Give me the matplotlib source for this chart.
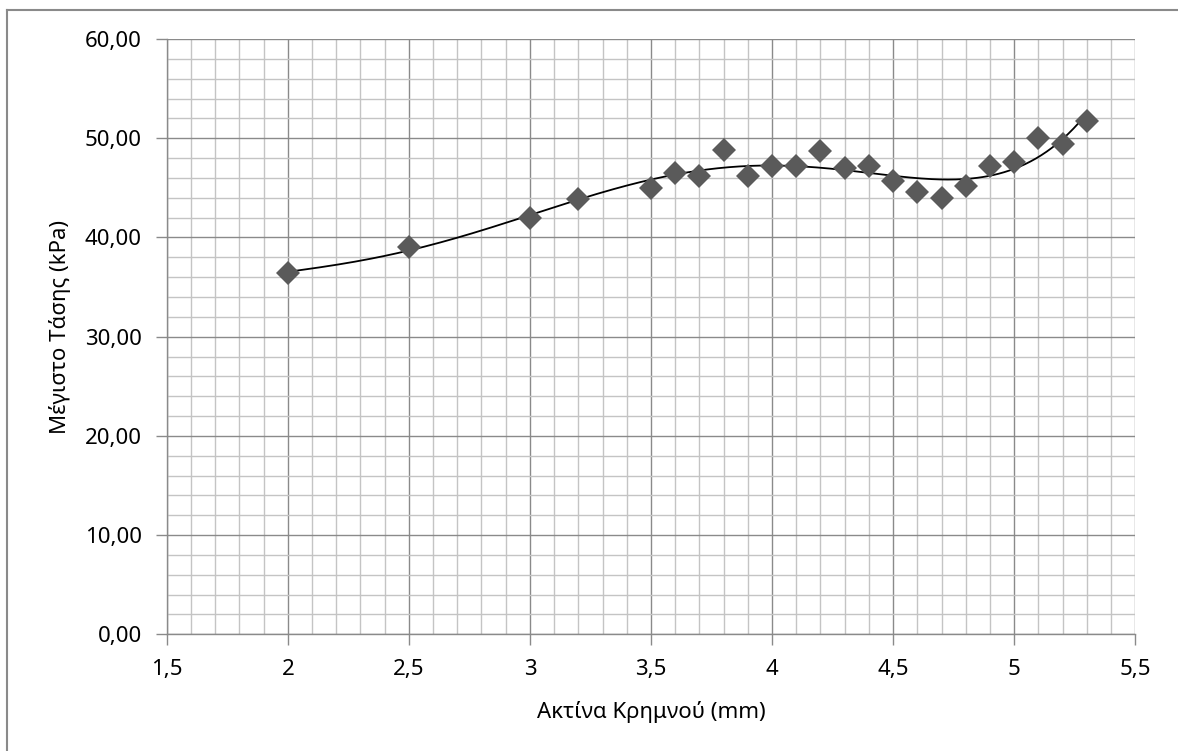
import matplotlib

matplotlib.use("Agg")
import matplotlib.pyplot as plt
import numpy as np
from matplotlib.ticker import FuncFormatter, MultipleLocator

plt.rcParams["font.family"] = ["Noto Sans", "DejaVu Sans"]

# data
radius = [2.0, 2.5, 3.0, 3.2, 3.5, 3.6, 3.7, 3.8, 3.9, 4.0, 4.1, 4.2,
          4.3, 4.4, 4.5, 4.6, 4.7, 4.8, 4.9, 5.0, 5.1, 5.2, 5.3]
stress = [36.45, 39.0, 42.0, 43.9, 45.0, 46.45, 46.2, 48.8, 46.2, 47.2, 47.2, 48.75,
          47.0, 47.2, 45.7, 44.6, 44.0, 45.2, 47.2, 47.6, 50.05, 49.45, 51.7]
trend_order = 5

x_label = "Ακτίνα Κρημνού (mm)"
y_label = "Μέγιστο Τάσης (kPa)"

fig = plt.figure(figsize=(11.78, 7.51), dpi=100)
ax = fig.add_axes([0.1415, 0.1554, 0.9637 - 0.1415, 0.948 - 0.1554])

ax.set_xlim(1.5, 5.5)
ax.set_ylim(0, 60)
ax.xaxis.set_major_locator(MultipleLocator(0.5))
ax.xaxis.set_minor_locator(MultipleLocator(0.1))
ax.yaxis.set_major_locator(MultipleLocator(10))
ax.yaxis.set_minor_locator(MultipleLocator(2))

ax.grid(which="minor", color="#c4c4c4", lw=1.0)
ax.grid(which="major", color="#8a8a8a", lw=1.0)
ax.set_axisbelow(True)

for s in ["top", "right"]:
    ax.spines[s].set_visible(False)
for s in ["left", "bottom"]:
    ax.spines[s].set_color("#8a8a8a")
    ax.spines[s].set_linewidth(1.0)

ax.tick_params(which="major", length=8, width=1.0, color="#8a8a8a",
               labelsize=16, pad=10)
ax.tick_params(which="minor", length=0)


def x_fmt(v, _):
    s = f"{v:g}"
    return s.replace(".", ",")


def y_fmt(v, _):
    return f"{v:.2f}".replace(".", ",")


ax.xaxis.set_major_formatter(FuncFormatter(x_fmt))
ax.yaxis.set_major_formatter(FuncFormatter(y_fmt))

# polynomial trendline (as in the spreadsheet chart)
coef = np.polyfit(radius, stress, trend_order)
xs = np.linspace(min(radius), max(radius), 300)
ax.plot(xs, np.polyval(coef, xs), color="black", lw=1.3, zorder=3)

ax.plot(radius, stress, linestyle="none", marker="D", markersize=12,
        color="#5a5a5a", markeredgewidth=0, zorder=4)

fig.text(651 / 1178, 1 - 712 / 751, x_label, ha="center", va="center",
         fontsize=16)
fig.text(60 / 1178, 1 - 327 / 751, y_label, ha="center", va="center",
         rotation=90, fontsize=16)

# chart border
fig.add_artist(plt.Line2D([7 / 1178, 7 / 1178], [0, 1 - 10 / 751],
                          color="#8a8a8a", lw=1.5))
fig.add_artist(plt.Line2D([7 / 1178, 1], [1 - 10 / 751, 1 - 10 / 751],
                          color="#8a8a8a", lw=1.5))

fig.savefig("out.png", dpi=100)
